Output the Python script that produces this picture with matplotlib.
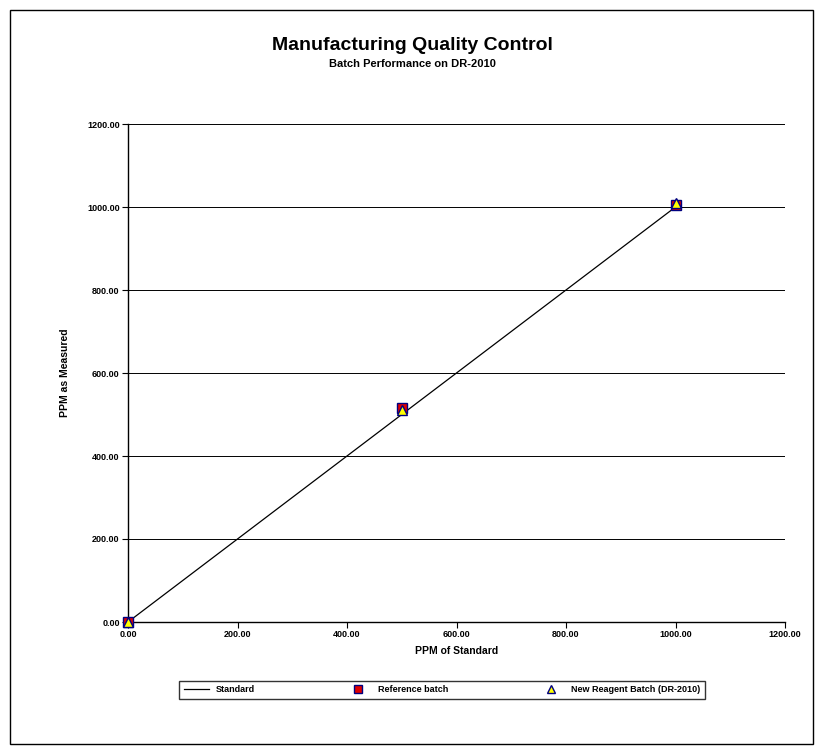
import matplotlib
matplotlib.use("Agg")
from matplotlib import pyplot as plt
from matplotlib.patches import Rectangle

plt.rcParams['font.family'] = ['Liberation Sans', 'DejaVu Sans']
plt.rcParams['font.weight'] = 'bold'

# concentrations of the standards (ppm)
standard_ppm = [0, 500, 1000]
# ideal response line
standard_line = [0, 500, 1000]
# measured values
reference_batch = [0, 515, 1005]
new_reagent_batch = [0, 510, 1010]

y_ticks = [0, 200, 400, 600, 800, 1000, 1200]
x_ticks = [0, 200, 400, 600, 800, 1000, 1200]

fig = plt.figure(figsize=(8.24, 7.54), dpi=100)
fig.patches.append(Rectangle((10 / 824, 10 / 754), 803 / 824, 734 / 754,
                             transform=fig.transFigure, fill=False,
                             edgecolor='black', linewidth=1.0))

ax = fig.add_axes([128 / 824, 1 - 622 / 754, 657 / 824, 498 / 754])

ax.plot(standard_ppm, standard_line, color='black', linewidth=0.9,
        label='Standard', zorder=3)
ax.plot(standard_ppm, reference_batch, linestyle='none', marker='s',
        markersize=7.5, markerfacecolor='#e00000', markeredgecolor='#000080',
        markeredgewidth=1.0, label='Reference batch', zorder=4, clip_on=False)
ax.plot(standard_ppm, new_reagent_batch, linestyle='none', marker='^',
        markersize=7.5, markerfacecolor='#ffff00', markeredgecolor='#000080',
        markeredgewidth=1.0, label='New Reagent Batch (DR-2010)', zorder=5,
        clip_on=False)

ax.set_xlim(0, 1200)
ax.set_ylim(0, 1200)
ax.set_xticks(x_ticks)
ax.set_yticks(y_ticks)
ax.set_xticklabels([f'{v:.2f}' for v in x_ticks], fontsize=6.5, fontweight='bold')
ax.set_yticklabels([f'{v:.2f}' for v in y_ticks], fontsize=6.5, fontweight='bold')
ax.tick_params(direction='out', length=4, width=0.8, pad=2)

ax.yaxis.grid(True, color='black', linewidth=0.7)
ax.set_axisbelow(True)
ax.spines['top'].set_visible(False)
ax.spines['right'].set_visible(False)
ax.spines['left'].set_linewidth(1.0)
ax.spines['bottom'].set_linewidth(1.0)

ax.set_xlabel('PPM of Standard', fontsize=7.5, fontweight='bold', labelpad=5)
ax.set_ylabel('PPM as Measured', fontsize=7.5, fontweight='bold', labelpad=12)

fig.text(0.5, 1 - 45 / 754, 'Manufacturing Quality Control', ha='center',
         va='center', fontsize=14, fontweight='bold')
fig.text(0.5, 1 - 64 / 754, 'Batch Performance on DR-2010', ha='center',
         va='center', fontsize=8, fontweight='bold')

leg = fig.legend(loc='center', bbox_to_anchor=(442 / 824, 1 - 690 / 754),
                 ncol=3, fontsize=6.5, frameon=True, fancybox=False,
                 edgecolor='black', columnspacing=10, handlelength=2.8,
                 markerscale=0.75, borderpad=0.5)
leg.get_frame().set_linewidth(1.0)

fig.savefig('out.png', dpi=100, facecolor='white')
